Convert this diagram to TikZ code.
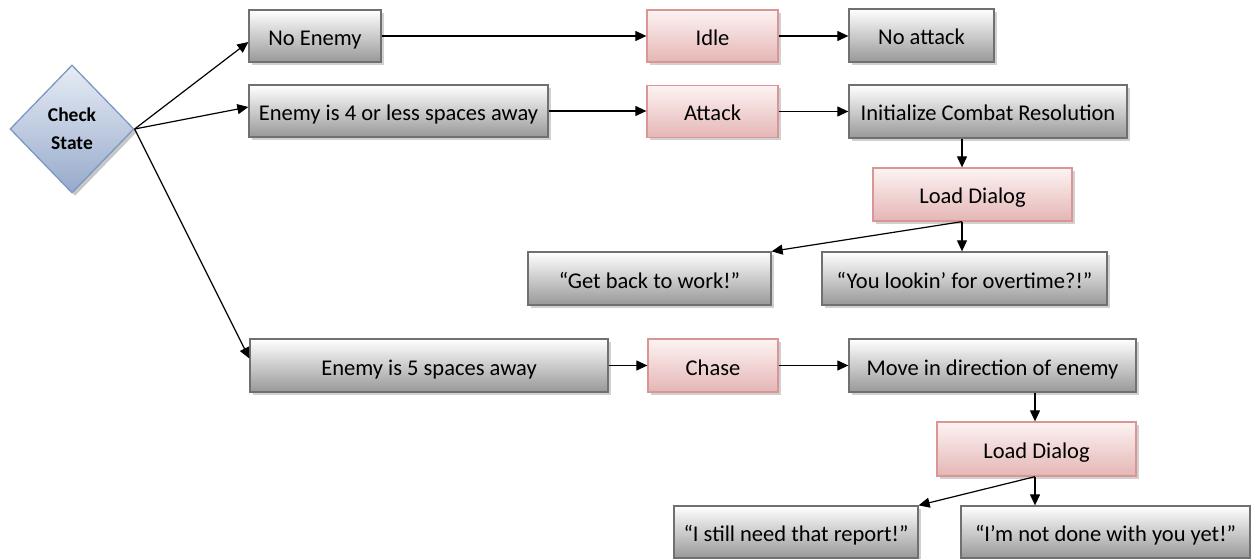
\documentclass[tikz,border=0pt]{standalone}
\usepackage{fontspec}
\setmainfont{Carlito}
\usetikzlibrary{arrows.meta,shapes.geometric,shadows}
\definecolor{gborder}{HTML}{707070}
\definecolor{gbot}{HTML}{989898}
\definecolor{ptop}{HTML}{FDF3F3}
\definecolor{pbot}{HTML}{E4B6B5}
\definecolor{pborder}{HTML}{D99694}
\definecolor{dtop}{HTML}{E6ECF5}
\definecolor{dbot}{HTML}{97AACB}
\definecolor{dborder}{HTML}{7C98C0}
\tikzset{
  boxbase/.style={rectangle, inner sep=0pt, line width=1.3pt,
    font=\fontsize{22.5}{27}\selectfont, text height=19pt, text depth=0pt,
    general shadow={fill=black!18, shadow xshift=3pt, shadow yshift=-3pt}},
  greybox/.style={boxbase, draw=gborder, top color=white, bottom color=gbot},
  pinkbox/.style={boxbase, draw=pborder, top color=ptop, bottom color=pbot},
  decide/.style={diamond, inner sep=0pt, line width=1.3pt, draw=dborder,
    top color=dtop, bottom color=dbot, align=center,
    font=\bfseries\fontsize{19.5}{28}\selectfont,
    general shadow={fill=black!22, shadow xshift=3pt, shadow yshift=-3pt}},
  arr/.style={line width=1.2pt, -{Triangle[length=11pt,width=10pt]}}
}
\begin{document}
\begin{tikzpicture}[x=1pt,y=-1pt]
\useasboundingbox (0,0) rectangle (1251,559);
\node[decide, minimum width=124pt, minimum height=128pt] (chk) at (72,129) {Check\\State};

\node[greybox, minimum width=132pt, minimum height=52pt] (ne) at (315,36) {No Enemy};
\node[greybox, minimum width=299pt, minimum height=52pt] (e4) at (398.5,111) {Enemy is 4 or less spaces away};
\node[greybox, minimum width=358pt, minimum height=53pt] (e5) at (429,365.5) {Enemy is 5 spaces away};

\node[pinkbox, minimum width=131pt, minimum height=52pt] (idle) at (712.5,36) {Idle};
\node[pinkbox, minimum width=131pt, minimum height=52pt] (attack) at (712.5,111.5) {Attack};
\node[pinkbox, minimum width=130pt, minimum height=53pt] (chase) at (713,365.5) {Chase};

\node[greybox, minimum width=145pt, minimum height=53pt] (noatt) at (921.5,35.5) {No attack};
\node[greybox, minimum width=278pt, minimum height=53pt] (init) at (988,111.5) {Initialize Combat Resolution};
\node[pinkbox, minimum width=199pt, minimum height=53pt] (ld1) at (972.5,194.5) {Load Dialog};
\node[greybox, minimum width=243pt, minimum height=53pt] (gb) at (649.5,278.5) {“Get back to work!”};
\node[greybox, minimum width=285pt, minimum height=53pt] (yl) at (964.5,278.5) {“You lookin’ for overtime?!”};

\node[greybox, minimum width=287pt, minimum height=53pt] (move) at (992.5,365.5) {Move in direction of enemy};
\node[pinkbox, minimum width=199pt, minimum height=54pt] (ld2) at (1036.5,449) {Load Dialog};
\node[greybox, minimum width=244pt, minimum height=52pt] (sn) at (796,532) {“I still need that report!”};
\node[greybox, minimum width=289pt, minimum height=52pt] (nd) at (1105.5,532) {“I’m not done with you yet!”};

\draw[arr] (chk.east) -- ([yshift=-6pt]ne.west);
\draw[arr] (chk.east) -- ([yshift=4pt]e4.west);
\draw[arr] (chk.east) -- ([yshift=7pt]e5.west);

\draw[arr] (ne.east) -- (ne.east -| idle.west);
\draw[arr] (e4.east) -- (e4.east -| attack.west);
\draw[arr] (e5.east) -- (e5.east -| chase.west);

\draw[arr] (idle.east) -- (idle.east -| noatt.west);
\draw[arr] (attack.east) -- (attack.east -| init.west);
\draw[arr] (chase.east) -- (chase.east -| move.west);

\draw[arr] ([xshift=-26pt]init.south) -- ([xshift=-10.5pt]ld1.north);
\draw[arr] ([xshift=-10.5pt]ld1.south) -- (gb.north east);
\draw[arr] ([xshift=-10.5pt]ld1.south) -- ([xshift=-2.5pt]yl.north);

\draw[arr] ([xshift=42.5pt]move.south) -- ([xshift=-1.5pt]ld2.north);
\draw[arr] ([xshift=-1.5pt]ld2.south) -- (sn.north east);
\draw[arr] ([xshift=-1.5pt]ld2.south) -- ([xshift=-70.5pt]nd.north);
\end{tikzpicture}
\end{document}
